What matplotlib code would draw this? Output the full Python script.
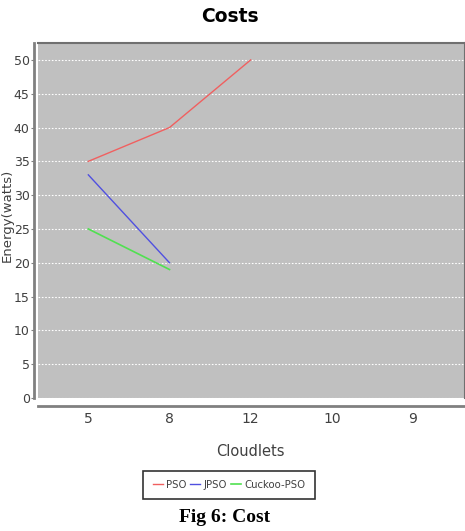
import matplotlib
matplotlib.use("Agg")
import matplotlib.pyplot as plt

categories = ["5", "8", "12", "10", "9"]
pso = [35, 40, 50]
jpso = [33, 20]
cuckoo_pso = [25, 19]
series_names = ["PSO", "JPSO", "Cuckoo-PSO"]
yticks = list(range(0, 55, 5))

fig = plt.figure(figsize=(4.65, 5.31), dpi=100)
ax = fig.add_axes([38/465, 1-398/531, 427/465, 355/531])
ax.set_facecolor("#c0c0c0")

x = list(range(len(categories)))
ax.plot(x[:len(pso)], pso, color="#f06060", lw=1.0, label=series_names[0])
ax.plot(x[:len(jpso)], jpso, color="#5050e0", lw=1.0, label=series_names[1])
ax.plot(x[:len(cuckoo_pso)], cuckoo_pso, color="#50e050", lw=1.2, label=series_names[2])

ax.set_xlim(-0.62, len(categories) - 1 + 0.64)
ax.set_ylim(0, 52.5)
ax.set_xticks(x)
ax.set_xticklabels(categories)
ax.set_yticks(yticks)
ax.yaxis.grid(True, color="white", ls=(0, (1.5, 1.5)), lw=0.8)
ax.set_axisbelow(True)

for s in ["top", "right"]:
    ax.spines[s].set_color("#707070")
    ax.spines[s].set_linewidth(1.5)
ax.spines["left"].set_position(("outward", 3))
ax.spines["bottom"].set_position(("outward", 6))
for s in ["left", "bottom"]:
    ax.spines[s].set_color("#808080")
    ax.spines[s].set_linewidth(2.0)

ax.tick_params(axis="y", length=2.5, color="#808080", labelsize=9, labelcolor="#404040", pad=0.5)
ax.tick_params(axis="x", length=0, labelsize=10, labelcolor="#404040", pad=4)

fig.text(230/465, 1-16/531, "Costs", ha="center", va="center", fontsize=13.5, fontweight="bold")
fig.text(0.5/465, 1-215/531, "Energy(watts)", rotation=90, ha="left", va="center", fontsize=9.5, color="#404040")
fig.text(250/465, 1-451/531, "Cloudlets", ha="center", va="center", fontsize=10.5, color="#404040")

leg = fig.legend(loc="center", bbox_to_anchor=(229/465, 1-485/531), ncol=3,
                 prop={"size": 7.3},
                 frameon=True, fancybox=False, edgecolor="black", handlelength=1.0,
                 handletextpad=0.3, columnspacing=0.4, borderpad=0.9)
leg.get_frame().set_linewidth(1.2)
for t in leg.get_texts():
    t.set_color("#404040")

fig.text(225/465, 1-517/531, "Fig 6: Cost", ha="center", va="center", fontsize=14, fontweight="bold",
         family="Liberation Serif")

fig.savefig("out.png", dpi=100)
